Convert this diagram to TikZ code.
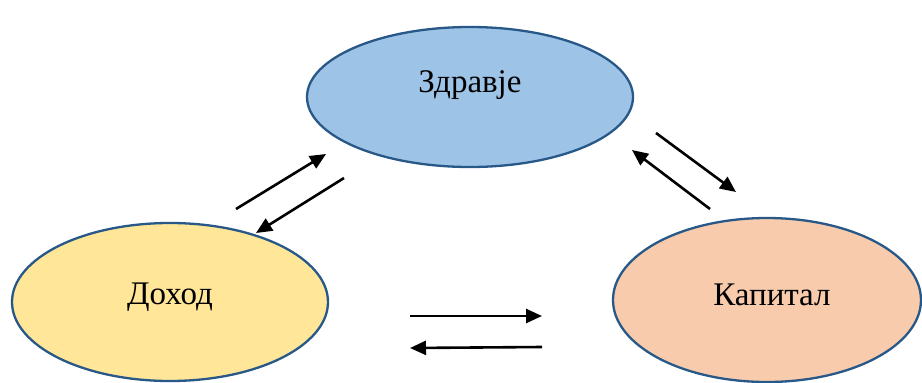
\documentclass[tikz,border=0pt]{standalone}
\usepackage{fontspec}
\setmainfont{Liberation Serif}
\usetikzlibrary{shapes.geometric,arrows.meta}
\definecolor{rubcol}{RGB}{40,88,136}
\definecolor{zdrcol}{RGB}{157,195,230}
\definecolor{dohcol}{RGB}{255,230,153}
\definecolor{kapcol}{RGB}{248,203,173}
\tikzset{%
  krug/.style={ellipse,draw=rubcol,line width=2.3pt,inner sep=0pt},%
  natpis/.style={anchor=base,font=\fontsize{33}{36}\selectfont},%
  strela/.style={line width=2.6pt,-{Triangle[length=16pt,width=14pt]}}%
}
\begin{document}
\begin{tikzpicture}[x=1pt,y=-1pt]%
\useasboundingbox (0,0) rectangle (922,383);%
%
\node[krug,fill=zdrcol,minimum width=326pt,minimum height=140pt] (zdravje) at (470,97) {};%
\node[natpis] (zdravjeT) at (470,92) {Здравје};%
%
\node[krug,fill=dohcol,minimum width=316pt,minimum height=158pt] (dohod) at (170,302) {};%
\node[natpis] (dohodT) at (170,304) {Доход};%
%
\node[krug,fill=kapcol,minimum width=308pt,minimum height=164pt] (kapital) at (767,300) {};%
\node[natpis] (kapitalT) at (772,305) {Капитал};%
%
% Доход - Здравје
\coordinate (dz1) at (236,209);%
\coordinate (dz2) at (326,154);%
\coordinate (zd1) at (344,178);%
\coordinate (zd2) at (256,233);%
\draw[strela] (dz1) -- (dz2);%
\draw[strela] (zd1) -- (zd2);%
%
% Здравје - Капитал
\coordinate (zk1) at (656,133);%
\coordinate (zk2) at (736,192);%
\coordinate (kz1) at (710,209);%
\coordinate (kz2) at (632,150);%
\draw[strela] (zk1) -- (zk2);%
\draw[strela] (kz1) -- (kz2);%
%
% Доход - Капитал
\coordinate (dk1) at (410,316);%
\coordinate (dk2) at (542,316);%
\coordinate (kd1) at (542,347);%
\coordinate (kd2) at (410,348);%
\draw[strela] (dk1) -- (dk2);%
\draw[strela] (kd1) -- (kd2);%
%
\end{tikzpicture}
\end{document}
